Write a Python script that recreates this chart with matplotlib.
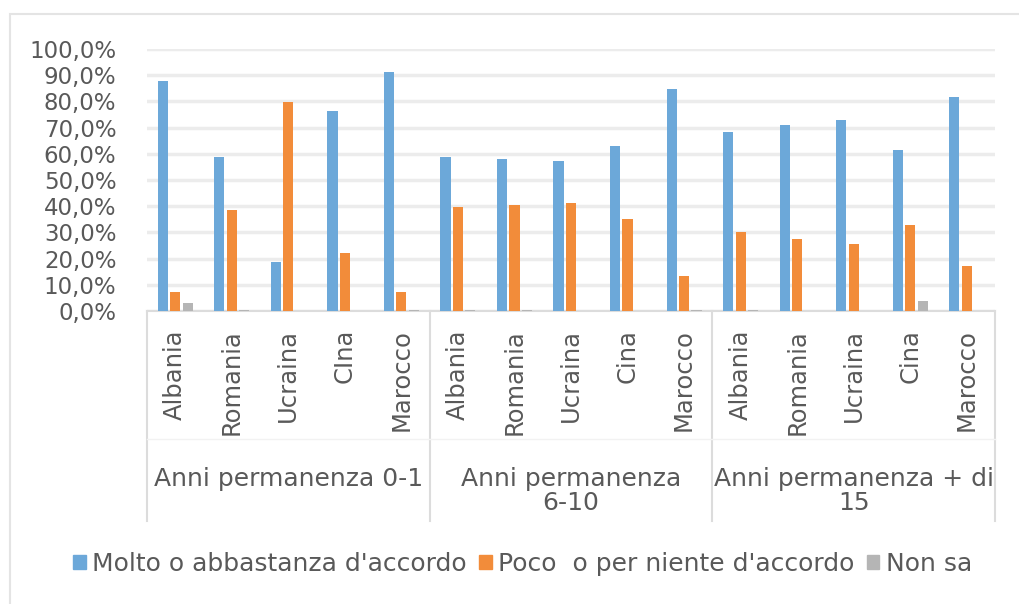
import matplotlib.pyplot as plt
import matplotlib.patches as mpatches
import numpy as np

countries = ['Albania', 'Romania', 'Ucraina', 'CIna', 'Marocco',
             'Albania', 'Romania', 'Ucraina', 'Cina', 'Marocco',
             'Albania', 'Romania', 'Ucraina', 'Cina', 'Marocco']
groups = ['Anni permanenza 0-1', 'Anni permanenza\n6-10', 'Anni permanenza + di\n15']
series_names = ["Molto o abbastanza d'accordo", "Poco  o per niente d'accordo", 'Non sa']

molto = [87.7, 58.9, 18.8, 76.2, 91.1,
         58.9, 58.0, 57.1, 63.1, 84.9,
         68.5, 71.0, 72.8, 61.6, 81.5]
poco = [7.4, 38.7, 79.8, 22.2, 7.4,
        39.6, 40.5, 41.4, 35.2, 13.4,
        30.0, 27.5, 25.7, 32.8, 17.0]
non_sa = [2.9, 0.4, 0.0, 0.0, 0.4,
          0.4, 0.4, 0.0, 0.0, 0.4,
          0.4, 0.0, 0.0, 3.8, 0.0]

yticks = [0, 10, 20, 30, 40, 50, 60, 70, 80, 90, 100]
ytick_labels = ['0,0%', '10,0%', '20,0%', '30,0%', '40,0%', '50,0%',
                '60,0%', '70,0%', '80,0%', '90,0%', '100,0%']

colors = ['#6CA8D9', '#F28C3A', '#B5B5B5']
text_col = '#595959'

plt.rcParams['font.family'] = 'DejaVu Sans'

fig = plt.figure(figsize=(10.19, 6.04), dpi=100)
ax = fig.add_axes([147 / 1019, 1 - 311 / 604, (995 - 147) / 1019, (311 - 49) / 604])

x = np.arange(len(countries))
w = 0.18
off = 0.22
for vals, dx, c in zip([molto, poco, non_sa], [-off, 0, off], colors):
    ax.bar(x + dx, vals, width=w, color=c, edgecolor='none', zorder=3)

ax.set_xlim(-0.5, len(countries) - 0.5)
ax.set_ylim(0, 100)
ax.set_yticks(yticks)
ax.set_yticklabels(ytick_labels, fontsize=16.5, color=text_col)
ax.tick_params(axis='y', length=0, pad=22)
ax.set_xticks(x)
ax.set_xticklabels(countries, rotation=90, fontsize=17.5, color=text_col)
ax.tick_params(axis='x', length=0, pad=13)
ax.grid(axis='y', color='#ececec', linewidth=2.5, zorder=0)
for s in ['top', 'right', 'left']:
    ax.spines[s].set_visible(False)
ax.spines['bottom'].set_color('#dcdcdc')
ax.spines['bottom'].set_linewidth(1.5)

# group separators and labels under the axis
tr = ax.get_xaxis_transform()
for sep in [-0.5, 4.5, 9.5, 14.5]:
    ax.plot([sep, sep], [0, -0.80], transform=tr, color='#dcdcdc', lw=1.5, clip_on=False)
ax.plot([-0.5, 14.5], [-0.49, -0.49], transform=tr, color='#f2f2f2', lw=1.0, clip_on=False)
for i, g in enumerate(groups):
    ax.text(i * 5 + 2, -0.595, g, transform=tr, ha='center', va='top', fontsize=18,
            color=text_col, linespacing=1.0, multialignment='center')

handles = [mpatches.Patch(color=c) for c in colors]
fig.legend(handles, series_names, loc='center', bbox_to_anchor=(0.513, 0.066),
           ncol=3, frameon=False, fontsize=18, labelcolor=text_col,
           handlelength=0.5, handleheight=0.5, handletextpad=0.25, columnspacing=0.5)

# outer chart border
fig.patches.append(mpatches.Rectangle((10 / 1019, -0.01), 1.02, 1.01 - 14 / 604,
                                      transform=fig.transFigure, fill=False,
                                      edgecolor='#e4e4e4', lw=1.5))

fig.savefig('out.png', dpi=100)
